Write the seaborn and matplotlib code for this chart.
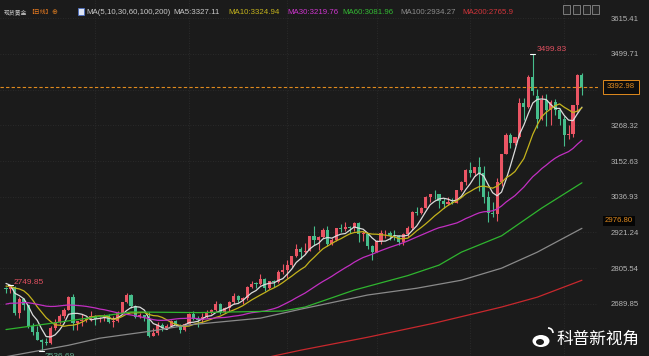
import numpy as np
import pandas as pd
import matplotlib
matplotlib.use('Agg')
import matplotlib.pyplot as plt
import matplotlib.transforms as mtransforms
from matplotlib.patches import Rectangle, Ellipse, Arc
import seaborn as sns

# closes before the visible window (moving average warm-up), Sep 23 - Nov 1 2024
prior_closes = [2628, 2657, 2657, 2672, 2658, 2634, 2662, 2657, 2656, 2653,
                2644, 2622, 2608, 2630, 2657, 2649, 2662, 2674, 2692, 2721,
                2720, 2749, 2716, 2736, 2747, 2743, 2774, 2788, 2744, 2736]

# daily candles, Nov 4 2024 - May 7 2025
opens = [2741, 2736, 2743, 2659, 2706, 2684, 2618, 2598, 2573, 2565,
         2562, 2612, 2632, 2651, 2670, 2712, 2626, 2633, 2637, 2640,
         2651, 2640, 2643, 2650, 2632, 2633, 2660, 2694, 2718, 2681,
         2648, 2652, 2646, 2586, 2594, 2622, 2612, 2617, 2633, 2621,
         2606, 2624, 2658, 2640, 2636, 2648, 2662, 2669, 2690, 2663,
         2677, 2695, 2715, 2703, 2708, 2743, 2755, 2753, 2770, 2740,
         2763, 2760, 2794, 2798, 2815, 2843, 2867, 2856, 2861, 2908,
         2898, 2905, 2929, 2883, 2897, 2935, 2933, 2939, 2936, 2951,
         2915, 2916, 2876, 2858, 2893, 2918, 2920, 2911, 2910, 2889,
         2916, 2934, 2988, 2984, 3000, 3035, 3046, 3044, 3023, 3012,
         3019, 3018, 3057, 3085, 3123, 3113, 3133, 3114, 3037, 2983,
         2982, 3083, 3175, 3237, 3211, 3230, 3342, 3327, 3424, 3365,
         3288, 3349, 3319, 3343, 3317, 3288, 3238, 3241, 3333, 3431]
highs = [2745, 2749.85, 2748, 2711, 2709, 2685, 2626, 2618, 2576, 2577,
         2616, 2639, 2656, 2676, 2716, 2722, 2635, 2656, 2648, 2666,
         2652, 2648, 2658, 2656, 2651, 2667, 2696, 2726, 2721, 2687,
         2660, 2653, 2664, 2611, 2632, 2628, 2623, 2638, 2636, 2625,
         2626, 2660, 2666, 2649, 2661, 2671, 2674, 2697, 2691, 2679,
         2697, 2724, 2718, 2711, 2746, 2763, 2760, 2786, 2773, 2765,
         2766, 2799, 2817, 2831, 2846, 2882, 2873, 2886, 2911, 2942,
         2910, 2934, 2943, 2903, 2936, 2947, 2955, 2942, 2956, 2954,
         2925, 2918, 2880, 2897, 2928, 2930, 2926, 2930, 2914, 2920,
         2941, 2990, 3005, 3002, 3038, 3047, 3057, 3047, 3034, 3035,
         3033, 3060, 3087, 3128, 3149, 3134, 3167, 3136, 3055, 3020,
         3099, 3176, 3245, 3245, 3232, 3358, 3357, 3430, 3499.83, 3386,
         3368, 3371, 3351, 3353, 3326, 3299, 3269, 3334, 3436, 3439]
lows = [2725, 2724, 2652, 2643, 2671, 2610, 2589, 2572, 2536.69, 2557,
        2560, 2605, 2625, 2643, 2668, 2605, 2605, 2619, 2629, 2635,
        2622, 2631, 2634, 2627, 2614, 2630, 2657, 2692, 2676, 2645,
        2643, 2633, 2583, 2584, 2587, 2602, 2608, 2614, 2616, 2596,
        2602, 2623, 2636, 2614, 2627, 2642, 2657, 2665, 2656, 2661,
        2666, 2689, 2696, 2689, 2703, 2740, 2741, 2752, 2730, 2737,
        2745, 2756, 2787, 2772, 2810, 2841, 2834, 2853, 2860, 2880,
        2864, 2904, 2877, 2881, 2892, 2923, 2925, 2919, 2925, 2889,
        2894, 2868, 2832, 2857, 2883, 2903, 2895, 2896, 2880, 2880,
        2907, 2930, 2977, 2982, 2999, 3021, 3029, 2999, 3000, 3011,
        3012, 3016, 3054, 3076, 3100, 3105, 3054, 3015, 2956, 2970,
        2957, 3072, 3174, 3194, 3205, 3228, 3284, 3324, 3366, 3260,
        3287, 3266, 3268, 3301, 3268, 3202, 3223, 3230, 3313, 3367]
closes = [2736, 2743, 2659, 2706, 2685, 2618, 2598, 2573, 2565, 2562,
          2612, 2632, 2651, 2670, 2712, 2626, 2633, 2637, 2640, 2651,
          2640, 2643, 2650, 2632, 2633, 2660, 2694, 2718, 2681, 2648,
          2652, 2646, 2586, 2594, 2622, 2612, 2617, 2633, 2621, 2606,
          2624, 2658, 2640, 2636, 2648, 2662, 2669, 2690, 2663, 2677,
          2695, 2715, 2703, 2708, 2743, 2755, 2753, 2770, 2740, 2763,
          2760, 2794, 2798, 2815, 2843, 2867, 2856, 2861, 2908, 2898,
          2905, 2929, 2883, 2897, 2935, 2933, 2939, 2936, 2951, 2915,
          2916, 2876, 2858, 2893, 2918, 2920, 2911, 2910, 2889, 2916,
          2934, 2988, 2984, 3000, 3035, 3046, 3044, 3023, 3012, 3019,
          3018, 3057, 3085, 3123, 3113, 3133, 3114, 3037, 2983, 2982,
          3083, 3175, 3237, 3211, 3230, 3342, 3327, 3424, 3381, 3288,
          3349, 3319, 3343, 3317, 3288, 3238, 3241, 3333, 3431, 3392.98]

# long moving averages (candle index, value)
ma60_pos = [0, 12, 28, 43, 62, 67, 78, 90, 97, 102, 111, 120, 129]
ma60_val = [2606, 2630, 2663, 2661, 2666, 2679, 2734, 2781, 2815, 2857, 2910, 3000, 3081.96]
ma100_pos = [0, 14, 21, 32, 41, 57, 66, 81, 92, 102, 111, 119, 129]
ma100_val = [2518, 2555, 2578, 2600, 2621, 2643, 2672, 2718, 2740, 2766, 2805, 2857, 2934.27]
ma200_pos = [55, 66, 81, 96, 111, 119, 129]
ma200_val = [2505, 2539, 2581, 2627, 2679, 2711, 2765.9]

# right axis levels
y_levels = [2689.85, 2805.54, 2921.24, 3036.93, 3152.63, 3268.32, 3384.02, 3499.71, 3615.41]
last_price = 3392.98
mark_price = 2976.80

header_labels = ['MA(5,10,30,60,100,200)', 'MA5:3327.11', 'MA10:3324.94', 'MA30:3219.76',
                 'MA60:3081.96', 'MA100:2934.27', 'MA200:2765.9']

BG = '#1b1b1b'
RED = '#eb5564'
GREEN = '#46be8c'
ORANGE = '#e08a1e'
MA_COLORS = {'ma5': '#dcdcdc', 'ma10': '#c4b31c', 'ma30': '#c22fc2',
             'ma60': '#2fb52f', 'ma100': '#8a8a8a', 'ma200': '#c8282d'}

sns.set_theme(style='dark', rc={'axes.facecolor': BG, 'figure.facecolor': BG})
plt.rcParams['font.family'] = ['Liberation Sans', 'Noto Sans CJK SC', 'DejaVu Sans']

dates = pd.bdate_range('2024-11-04', '2025-05-07')
dates = dates[~dates.isin(pd.to_datetime(['2024-12-25', '2025-01-01', '2025-04-18']))]
df = pd.DataFrame({'date': dates, 'open': opens, 'high': highs, 'low': lows, 'close': closes})
df['pos'] = np.arange(len(df))

all_close = pd.Series(prior_closes + closes, dtype=float)
n_prior = len(prior_closes)
for n in (5, 10, 30):
    df[f'ma{n}'] = all_close.rolling(n).mean().iloc[n_prior:].to_numpy()

W, H = 649, 356
fig = plt.figure(figsize=(W / 100, H / 100), dpi=100)
ax = fig.add_axes([0, 0, 598 / W, 1])
ax.set_facecolor(BG)

# candles
up = df['close'] >= df['open']
colors = np.where(up, RED, GREEN)
ax.vlines(df['pos'], df['low'], df['high'], colors=colors, lw=0.8, zorder=2)
body = (df['close'] - df['open']).abs().clip(lower=2.5)
ax.bar(df['pos'], body, bottom=df[['open', 'close']].min(axis=1), width=0.7,
       color=colors, linewidth=0, zorder=3)

# moving averages
for name in ('ma5', 'ma10', 'ma30'):
    sns.lineplot(data=df, x='pos', y=name, ax=ax, color=MA_COLORS[name], lw=0.9, zorder=4, legend=False)
for name, p, v in (('ma60', ma60_pos, ma60_val), ('ma100', ma100_pos, ma100_val),
                   ('ma200', ma200_pos, ma200_val)):
    sns.lineplot(x=p, y=v, ax=ax, color=MA_COLORS[name], lw=0.9, zorder=4, legend=False)

ax.set_xlim(-1.34, 132.6)
ax.set_ylim(2520.2, 3674.8)
ax.set_xlabel('')
ax.set_ylabel('')

# grid: month starts and price levels
month_starts = df.groupby(df['date'].dt.to_period('M'))['pos'].min().iloc[1:]
ax.set_xticks(month_starts.to_numpy())
ax.set_yticks(y_levels)
ax.set_yticklabels([f'{v:.2f}' for v in y_levels])
ax.tick_params(axis='x', labelbottom=False, length=0)
ax.tick_params(axis='y', left=True, right=False, labelleft=False, labelright=True,
               length=2, color='#c87820', pad=7, labelsize=5.6, labelcolor='#b4b4b4')
ax.grid(True, color='#303030', linestyle=(0, (1, 2)), lw=0.6)
for s in ax.spines.values():
    s.set_visible(False)

# last price line and labels
ax.axhline(last_price, color=ORANGE, lw=0.8, ls=(0, (3, 2)), zorder=5)
trans = mtransforms.blended_transform_factory(ax.transAxes, ax.transData)
ax.text(1.015, last_price, f'{last_price:.2f}', transform=trans, ha='left', va='center',
        fontsize=5.6, color=ORANGE, zorder=10, clip_on=False,
        bbox=dict(boxstyle='square,pad=0.45', fc='#0e0e0e', ec=ORANGE, lw=0.7))
ax.annotate(f'{mark_price:.2f}', xy=(1.0117, mark_price), xycoords=trans, xytext=(0, -4),
            textcoords='offset points', ha='left', va='center', fontsize=5.6, color=ORANGE,
            zorder=10, annotation_clip=False,
            bbox=dict(boxstyle='square,pad=0.2', fc='#050505', ec='none'))

# high / low markers
hi_i = df['high'].idxmax()
ax.plot([hi_i - 0.6, hi_i + 0.6], [df['high'][hi_i]] * 2, color='white', lw=0.8, zorder=6)
ax.annotate(f"{df['high'][hi_i]:.2f}", xy=(hi_i, df['high'][hi_i]), xytext=(3, 3),
            textcoords='offset points', ha='left', va='center', fontsize=6, color='#e05060')
left_i = df['high'].iloc[:10].idxmax()
ax.plot([left_i - 0.6, left_i + 0.6], [df['high'][left_i]] * 2, color='white', lw=0.8, zorder=6)
ax.annotate(f"{df['high'][left_i]:.2f}", xy=(left_i, df['high'][left_i]), xytext=(2, 2),
            textcoords='offset points', ha='left', va='center', fontsize=6, color='#e05060')
lo_i = df['low'].idxmin()
ax.plot([lo_i - 0.6, lo_i + 0.6], [df['low'][lo_i]] * 2, color='white', lw=0.8, zorder=6)
ax.annotate(f"{df['low'][lo_i]:.2f}", xy=(lo_i, df['low'][lo_i]), xytext=(2, -4),
            textcoords='offset points', ha='left', va='center', fontsize=6, color='#5fa88a',
            annotation_clip=False)

# header
def fx(px):
    return px / W

def fy(py):
    return 1 - py / H

fig.text(fx(4), fy(12.5), '现货黄金', fontsize=4.2, color='#c8c8c8', va='center',
         family=['Noto Sans CJK SC', 'DejaVu Sans'])
fig.text(fx(28), fy(12.5), '【日线】', fontsize=4.2, color='#e87a20', va='center',
         family=['Noto Sans CJK SC', 'DejaVu Sans'])
fig.text(fx(51), fy(12.5), '⊕', fontsize=5, color='#d87a20', va='center', family='DejaVu Sans')
fig.add_artist(Rectangle((fx(78), fy(15)), 6 / W, 7 / H, transform=fig.transFigure,
                         fc='#dfe6f5', ec='#4a6cc0', lw=0.6))
header_x = [86, 173, 228, 287, 342, 400, 462]
header_c = ['#c8c8c8', '#c8c8c8', MA_COLORS['ma10'], '#cf35cf', '#33b833', '#8c8c8c', '#d0343a']
for x, t, c in zip(header_x, header_labels, header_c):
    fig.text(fx(x), fy(12.5), t, fontsize=5.7, color=c, va='center')

for x in (563, 573, 583, 592):
    fig.add_artist(Rectangle((fx(x), fy(14)), 7 / W, 9 / H, transform=fig.transFigure,
                             fc='#262626', ec='#8a8a8a', lw=0.6))

# watermark
fig.add_artist(Ellipse((fx(541), fy(341)), 17 / W, 12 / H, transform=fig.transFigure, fc='white', ec='none'))
fig.add_artist(Ellipse((fx(540), fy(342)), 8 / W, 6 / H, transform=fig.transFigure, fc=BG, ec='none'))
fig.add_artist(Arc((fx(548), fy(333)), 10 / W, 10 / H, theta1=0, theta2=90, transform=fig.transFigure,
                   color='white', lw=1.2))
fig.text(fx(557), fy(339), '科普新视角', fontsize=12, color='white', va='center',
         family=['Noto Sans CJK SC', 'DejaVu Sans'])

plt.savefig('out.png', dpi=100, facecolor=BG)
